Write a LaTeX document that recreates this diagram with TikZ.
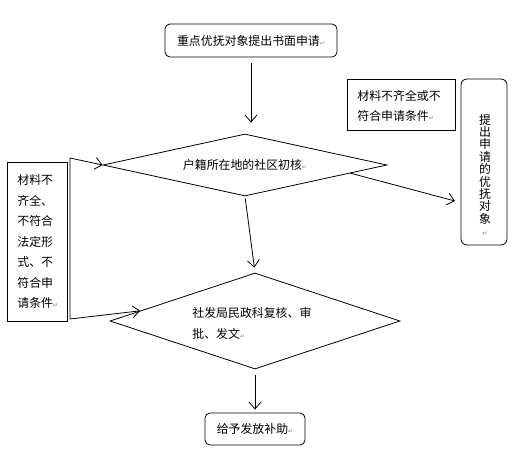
\documentclass[tikz,border=0pt]{standalone}
\usepackage{fontspec}
\setmainfont{Noto Sans CJK SC}
\newfontfamily\symfont{DejaVu Sans}
\usetikzlibrary{arrows.meta,shapes.geometric,calc}
\newcommand{\pmark}{{\symfont\fontsize{6bp}{6bp}\selectfont\color{gray}↵}}

\begin{document}
\begin{tikzpicture}[x=1bp,y=-1bp,>={Straight Barb[length=7bp,width=12bp]},
	line width=0.8bp,font=\fontsize{11.9bp}{20bp}\selectfont,
	rbox/.style={draw,rounded corners=5bp,inner sep=0pt},
	sbox/.style={draw,inner sep=0pt},
	dia/.style={draw,diamond,aspect=1,inner sep=0pt},
	txt/.style={inner sep=0pt,align=left,anchor=west}]
%	\draw [help lines] (0,0) grid (526,453);
	\useasboundingbox (0,0) rectangle (526,453);
	\node [rbox,minimum width=172bp,minimum height=33bp] (apply) at (251,40.5) {重点优抚对象提出书面申请\pmark};
	\node [dia,minimum width=284bp,minimum height=62bp] (check) at (245,165) {};
	\node [inner sep=0pt] (checktext) at (check) {户籍所在地的社区初核\pmark};
	\node [sbox,minimum width=108bp,minimum height=51bp] (fail) at (401,104.5) {};
	\node [txt] (failtext) at (357,106) {材料不齐全或不\\符合申请条件\pmark};
	\node [rbox,rounded corners=6bp,minimum width=46bp,minimum height=166bp] (result) at (484,162) {};
	\node [inner sep=0pt,align=center,font=\fontsize{11.9bp}{12.4bp}\selectfont] (resulttext) at (485,175)
		{提\\出\\申\\请\\的\\优\\抚\\对\\象\\\pmark};
	\node [sbox,minimum width=60bp,minimum height=159bp] (lbox) at (37,241.5) {};
	\node [txt,font=\fontsize{11.9bp}{20.5bp}\selectfont] (lboxtext) at (17,241.5)
		{材料不\\齐全、\\不符合\\法定形\\式、不\\符合申\\请条件\pmark};
	\node [dia,minimum width=290bp,minimum height=96bp] (review) at (255,321) {};
	\node [txt,font=\fontsize{11.9bp}{21bp}\selectfont] (reviewtext) at (192,323.5) {社发局民政科复核、审\\批、发文\pmark};
	\node [rbox,minimum width=100bp,minimum height=32bp] (grant) at (255,429) {给予发放补助\pmark};
	% connectors
	\coordinate (tip) at (455,201);
	\coordinate (lt) at (70,158);
	\coordinate (lb) at (70,319);
	\draw [->,shorten <=6bp,shorten >=11bp] (apply.south) -- (apply.south |- check.north);
	\draw [->] ($(check.east)!0.26!(check.south)$) -- (tip);
	\draw [->,shorten <=2bp,shorten >=5bp] (check.south) -- (review.north);
	\draw [<->] (check.west) -- (lt) -- (lb) -- ($(review.west)!0.21!(review.north)$);
	\draw [->,shorten <=6bp,shorten >=3bp] (review.south) -- (grant.north);
\end{tikzpicture}
\end{document}
